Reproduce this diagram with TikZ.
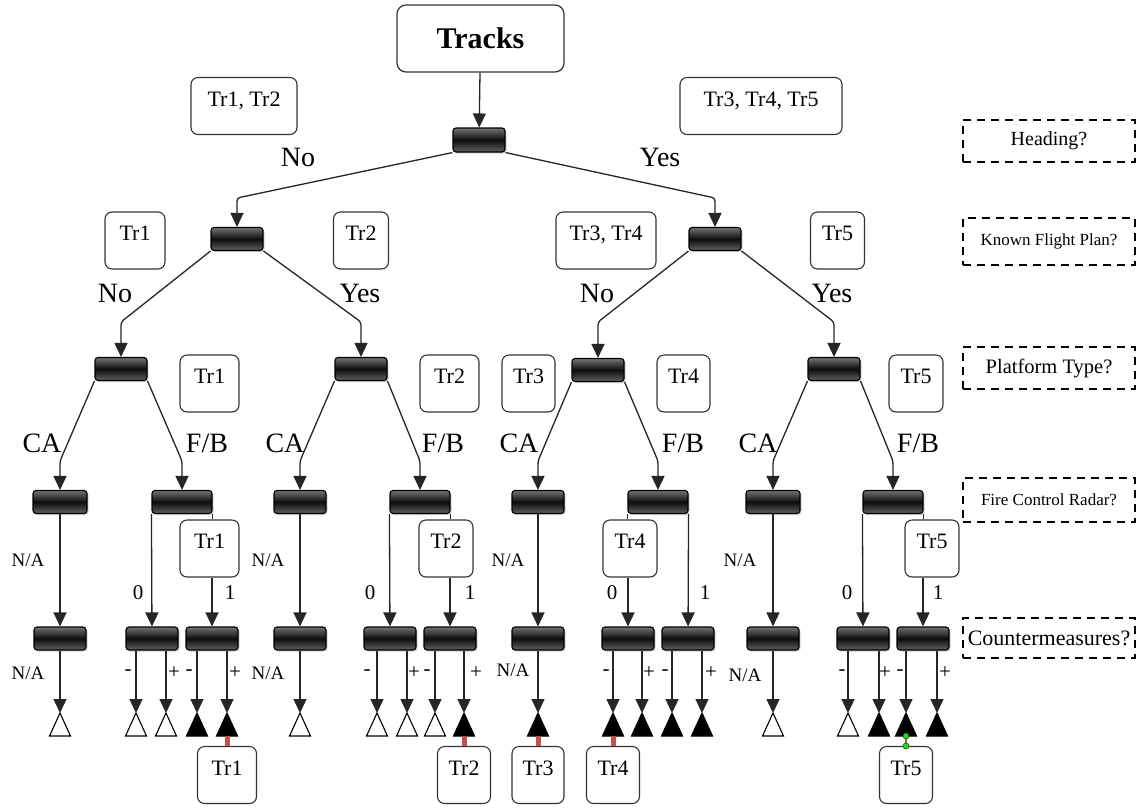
\documentclass[tikz,border=0pt]{standalone}
\usepackage{fontspec}
\setmainfont{Liberation Serif}
\usetikzlibrary{arrows.meta,shadows}
\newcommand{\fsz}[1]{\fontsize{#1}{#1}\selectfont}
% leaf triangle: apex coordinate #1, base-centre coordinate #1b
\newcommand{\leafat}[3]{%
  \coordinate (#1) at (#2,713);
  \coordinate (#1b) at (#2,736);
  \draw[line width=1.1pt, draw=black, fill=#3] (#1) -- ++(-10.5,23) -- ++(21,0) -- cycle;}
\definecolor{barred}{RGB}{192,80,77}
\begin{document}
\begin{tikzpicture}[x=1pt,y=-1pt,
  line/.style={draw=black!85, line width=1.3pt},
  arr/.style={line, -{Triangle[width=13pt,length=14pt]}},
  elbow/.style={arr, rounded corners=3pt},
  dec/.style={draw=black, line width=1.1pt, rounded corners=3pt, minimum width=52pt,
    minimum height=23pt, inner sep=0pt, top color=black!55, bottom color=black!62,
    middle color=black!95, drop shadow={shadow xshift=1.5pt, shadow yshift=-1.5pt, opacity=0.35}},
  wide/.style={minimum width=60pt},
  rootbox/.style={draw=black!80, line width=1.2pt, rounded corners=9pt, fill=white,
    minimum width=167pt, minimum height=67pt, inner sep=0pt, font=\fsz{30}\bfseries},
  trbox/.style={draw=black!80, line width=1.1pt, rounded corners=7pt, fill=white,
    inner xsep=0pt, inner ysep=0pt, text height=28.5pt, text depth=28.5pt, font=\fsz{22}},
  qbox/.style={draw=black, line width=2.2pt, dash pattern=on 8pt off 6pt,
    minimum width=172pt, inner sep=0pt},
  lab/.style={font=\fsz{28}, inner sep=0pt},
  small/.style={font=\fsz{19}, inner sep=0pt},
  sign/.style={font=\fsz{21}, inner sep=0pt},
  redbar/.style={draw=barred, line width=5pt},
]
\fill[white] (0,0) rectangle (1143,807);
\useasboundingbox (0,0) rectangle (1143,807);

% ---------- question column ----------
\node[qbox, minimum height=42pt, font=\fsz{20}] (qh) at (1049,141) {Heading?};
\node[qbox, minimum height=47pt, font=\fsz{17}] (qk) at (1049,241.5) {Known Flight Plan?};
\node[qbox, minimum height=42pt, font=\fsz{20.5}] (qp) at (1049,368) {Platform Type?};
\node[qbox, minimum height=44pt, font=\fsz{17}] (qf) at (1049,500) {Fire Control Radar?};
\node[qbox, minimum height=40pt, font=\fsz{22}] (qc) at (1049,638) {Countermeasures?};

% ---------- decision bars ----------
\node[rootbox] (tracks) at (480.5,38.5) {Tracks};
\node[dec, minimum height=24pt] (d0) at (479,140) {};
\node[dec] (d1a) at (237,239) {};
\node[dec] (d1b) at (715,239) {};
\node[dec] (d2a) at (121,369) {};
\node[dec] (d2b) at (361,369) {};
\node[dec] (d2c) at (598,370) {};
\node[dec] (d2d) at (834,369) {};
\node[dec, minimum width=54pt] (d3a) at (60,502) {};
\node[dec, wide] (d3b) at (182,502) {};
\node[dec] (d3c) at (300,502) {};
\node[dec, wide] (d3d) at (420,502) {};
\node[dec] (d3e) at (538,502) {};
\node[dec, wide] (d3f) at (658,502) {};
\node[dec, minimum width=54pt] (d3g) at (773,502) {};
\node[dec, wide] (d3h) at (893,502) {};
\node[dec] (d4a) at (60,638.5) {};
\node[dec] (d4b) at (152,638.5) {};
\node[dec] (d4c) at (212,638.5) {};
\node[dec] (d4d) at (300,638.5) {};
\node[dec] (d4e) at (390,638.5) {};
\node[dec] (d4f) at (450,638.5) {};
\node[dec] (d4g) at (538,638.5) {};
\node[dec] (d4h) at (628,638.5) {};
\node[dec] (d4i) at (688,638.5) {};
\node[dec] (d4j) at (773,638.5) {};
\node[dec] (d4k) at (863,638.5) {};
\node[dec] (d4l) at (923,638.5) {};

% ---------- track sets ----------
\node[trbox, minimum width=106pt] (s0a) at (244,106) {Tr1, Tr2};
\node[trbox, minimum width=162pt] (s0b) at (761,106) {Tr3, Tr4, Tr5};
\node[trbox, minimum width=60pt] (s1a) at (135,240.5) {Tr1};
\node[trbox, minimum width=55pt] (s1b) at (361,240.5) {Tr2};
\node[trbox, minimum width=100pt] (s1c) at (606,240.5) {Tr3, Tr4};
\node[trbox, minimum width=54pt] (s1d) at (837.5,240.5) {Tr5};
\node[trbox, minimum width=59pt] (s2a) at (209.5,383.5) {Tr1};
\node[trbox, minimum width=59pt] (s2b) at (449.5,383.5) {Tr2};
\node[trbox, minimum width=53pt] (s2c) at (528.5,383.5) {Tr3};
\node[trbox, minimum width=53pt] (s2d) at (683.5,383.5) {Tr4};
\node[trbox, minimum width=54pt] (s2e) at (916,383.5) {Tr5};
\node[trbox, minimum width=59pt] (m1) at (209.5,548.5) {Tr1};
\node[trbox, minimum width=54pt] (m2) at (446,548.5) {Tr2};
\node[trbox, minimum width=54pt] (m4) at (630,548.5) {Tr4};
\node[trbox, minimum width=54pt] (m5) at (932,548.5) {Tr5};
\node[trbox, minimum width=59pt] (b1) at (227,775) {Tr1};
\node[trbox, minimum width=53pt] (b2) at (464,775) {Tr2};
\node[trbox, minimum width=52pt] (b3) at (538,775) {Tr3};
\node[trbox, minimum width=53pt] (b4) at (613,775) {Tr4};
\node[trbox, minimum width=53pt] (b5) at (906,775) {Tr5};

% ---------- bend points ----------
\coordinate (k0a) at (237,198);  \coordinate (k0b) at (715,198);
\coordinate (k1a) at (121,322);  \coordinate (k1b) at (361,322);
\coordinate (k1c) at (598,322);  \coordinate (k1d) at (834,322);
\coordinate (k2a) at (60,461);   \coordinate (k2b) at (182,461);
\coordinate (k2c) at (300,461);  \coordinate (k2d) at (420,461);
\coordinate (k2e) at (538,461);  \coordinate (k2f) at (658,461);
\coordinate (k2g) at (773,461);  \coordinate (k2h) at (893,461);

% ---------- connectors ----------
\draw[arr] (tracks) -- (d0);
\draw[elbow] (d0.south west) -- (k0a) -- (d1a);
\draw[elbow] (d0.south east) -- (k0b) -- (d1b);
\draw[elbow] (d1a.south west) -- (k1a) -- (d2a);
\draw[elbow] (d1a.south east) -- (k1b) -- (d2b);
\draw[elbow] (d1b.south west) -- (k1c) -- (d2c);
\draw[elbow] (d1b.south east) -- (k1d) -- (d2d);
\draw[elbow] (d2a.south west) -- (k2a) -- (d3a);
\draw[elbow] (d2a.south east) -- (k2b) -- (d3b);
\draw[elbow] (d2b.south west) -- (k2c) -- (d3c);
\draw[elbow] (d2b.south east) -- (k2d) -- (d3d);
\draw[elbow] (d2c.south west) -- (k2e) -- (d3e);
\draw[elbow] (d2c.south east) -- (k2f) -- (d3f);
\draw[elbow] (d2d.south west) -- (k2g) -- (d3g);
\draw[elbow] (d2d.south east) -- (k2h) -- (d3h);

% countermeasure stage
\draw[arr] (d3a) -- (d4a);
\draw[arr] (d3c) -- (d4d);
\draw[arr] (d3e) -- (d4g);
\draw[arr] (d3g) -- (d4j);
\draw[arr] (d3b.south west) -- (d4b);
\draw[line] (d3b.south east) -- (d3b.south east |- m1.north);
\draw[arr] (m1.south -| d4c) -- (d4c);
\draw[arr] (d3d.south west) -- (d4e);
\draw[line] (d3d.south east) -- (d3d.south east |- m2.north);
\draw[arr] (m2.south -| d4f) -- (d4f);
\draw[line] (d3f.south west) -- (d3f.south west |- m4.north);
\draw[arr] (m4.south -| d4h) -- (d4h);
\draw[arr] (d3f.south east) -- (d4i);
\draw[arr] (d3h.south west) -- (d4k);
\draw[line] (d3h.south east) -- (d3h.south east |- m5.north);
\draw[arr] (m5.south -| d4l) -- (d4l);

% ---------- outcome triangles ----------
\leafat{la}{60}{white}
\leafat{lb1}{136}{white}  \leafat{lb2}{166}{white}
\leafat{lc1}{197}{black}  \leafat{lc2}{227}{black}
\leafat{ld}{300}{white}
\leafat{le1}{377}{white}  \leafat{le2}{407}{white}
\leafat{lf1}{435}{white}  \leafat{lf2}{464}{black}
\leafat{lg}{538}{black}
\leafat{lh1}{613}{black}  \leafat{lh2}{642}{black}
\leafat{li1}{672}{black}  \leafat{li2}{702}{black}
\leafat{lj}{773}{white}
\leafat{lk1}{848}{white}  \leafat{lk2}{879}{black}
\leafat{ll1}{906}{black}  \leafat{ll2}{937}{black}

\draw[arr] (d4a.south -| la) -- (la);
\draw[arr] (d4b.south -| lb1) -- (lb1);
\draw[arr] (d4b.south -| lb2) -- (lb2);
\draw[arr] (d4c.south -| lc1) -- (lc1);
\draw[arr] (d4c.south -| lc2) -- (lc2);
\draw[arr] (d4d.south -| ld) -- (ld);
\draw[arr] (d4e.south -| le1) -- (le1);
\draw[arr] (d4e.south -| le2) -- (le2);
\draw[arr] (d4f.south -| lf1) -- (lf1);
\draw[arr] (d4f.south -| lf2) -- (lf2);
\draw[arr] (d4g.south -| lg) -- (lg);
\draw[arr] (d4h.south -| lh1) -- (lh1);
\draw[arr] (d4h.south -| lh2) -- (lh2);
\draw[arr] (d4i.south -| li1) -- (li1);
\draw[arr] (d4i.south -| li2) -- (li2);
\draw[arr] (d4j.south -| lj) -- (lj);
\draw[arr] (d4k.south -| lk1) -- (lk1);
\draw[arr] (d4k.south -| lk2) -- (lk2);
\draw[arr] (d4l.south -| ll1) -- (ll1);
\draw[arr] (d4l.south -| ll2) -- (ll2);

% links from outcomes to tracks
\draw[redbar] (lc2b) -- (b1);
\draw[redbar] (lf2b) -- (b2);
\draw[redbar] (lgb) -- (b3);
\draw[redbar] (lh1b) -- (b4);
\draw[draw=barred, line width=2.5pt] (ll1b) -- (b5);
\filldraw[fill=green!75!black!80, draw=green!40!black, line width=0.6pt] (ll1b) circle (3pt);
\filldraw[fill=green!75!black!80, draw=green!40!black, line width=0.6pt] (b5.north) circle (3pt);

% ---------- branch labels ----------
\node[lab] (n0a) at (298,157) {No};
\node[lab] (n0b) at (660,157) {Yes};
\node[lab] (n1a) at (115,293) {No};
\node[lab] (n1b) at (360,293) {Yes};
\node[lab] (n1c) at (597,293) {No};
\node[lab] (n1d) at (832,293) {Yes};
\node[lab] (c1) at (42,443) {CA};
\node[lab] (f1) at (207,443) {F/B};
\node[lab] (c2) at (285,443) {CA};
\node[lab] (f2) at (443,443) {F/B};
\node[lab] (c3) at (519,443) {CA};
\node[lab] (f3) at (683,443) {F/B};
\node[lab] (c4) at (758,443) {CA};
\node[lab] (f4) at (918,443) {F/B};

\node[small] (na1) at (28,560) {N/A};
\node[small] (na2) at (268,560) {N/A};
\node[small] (na3) at (508,560) {N/A};
\node[small] (na4) at (740,560) {N/A};
\node[small] (nb1) at (28,673) {N/A};
\node[small] (nb2) at (268,673) {N/A};
\node[small] (nb3) at (513,670) {N/A};
\node[small] (nb4) at (745,675) {N/A};

\node[small, font=\fsz{21}] (z1) at (138,593) {0};
\node[small, font=\fsz{21}] (o1) at (230,593) {1};
\node[small, font=\fsz{21}] (z2) at (370,593) {0};
\node[small, font=\fsz{21}] (o2) at (470,593) {1};
\node[small, font=\fsz{21}] (z3) at (612,593) {0};
\node[small, font=\fsz{21}] (o3) at (705,593) {1};
\node[small, font=\fsz{21}] (z4) at (847,593) {0};
\node[small, font=\fsz{21}] (o4) at (938,593) {1};

\node[sign] (mb) at (128,673) {-};  \node[sign] (pb) at (174,673) {+};
\node[sign] (mc) at (189,673) {-};  \node[sign] (pc) at (235,673) {+};
\node[sign] (me) at (367,673) {-};  \node[sign] (pe) at (414,673) {+};
\node[sign] (mf) at (427,673) {-};  \node[sign] (pf) at (476,673) {+};
\node[sign] (mh) at (606,673) {-};  \node[sign] (ph) at (649,673) {+};
\node[sign] (mi) at (665,673) {-};  \node[sign] (pi) at (711,673) {+};
\node[sign] (mk) at (842,673) {-};  \node[sign] (pk) at (885,673) {+};
\node[sign] (ml) at (900,673) {-};  \node[sign] (pl) at (945,673) {+};
\end{tikzpicture}
\end{document}
